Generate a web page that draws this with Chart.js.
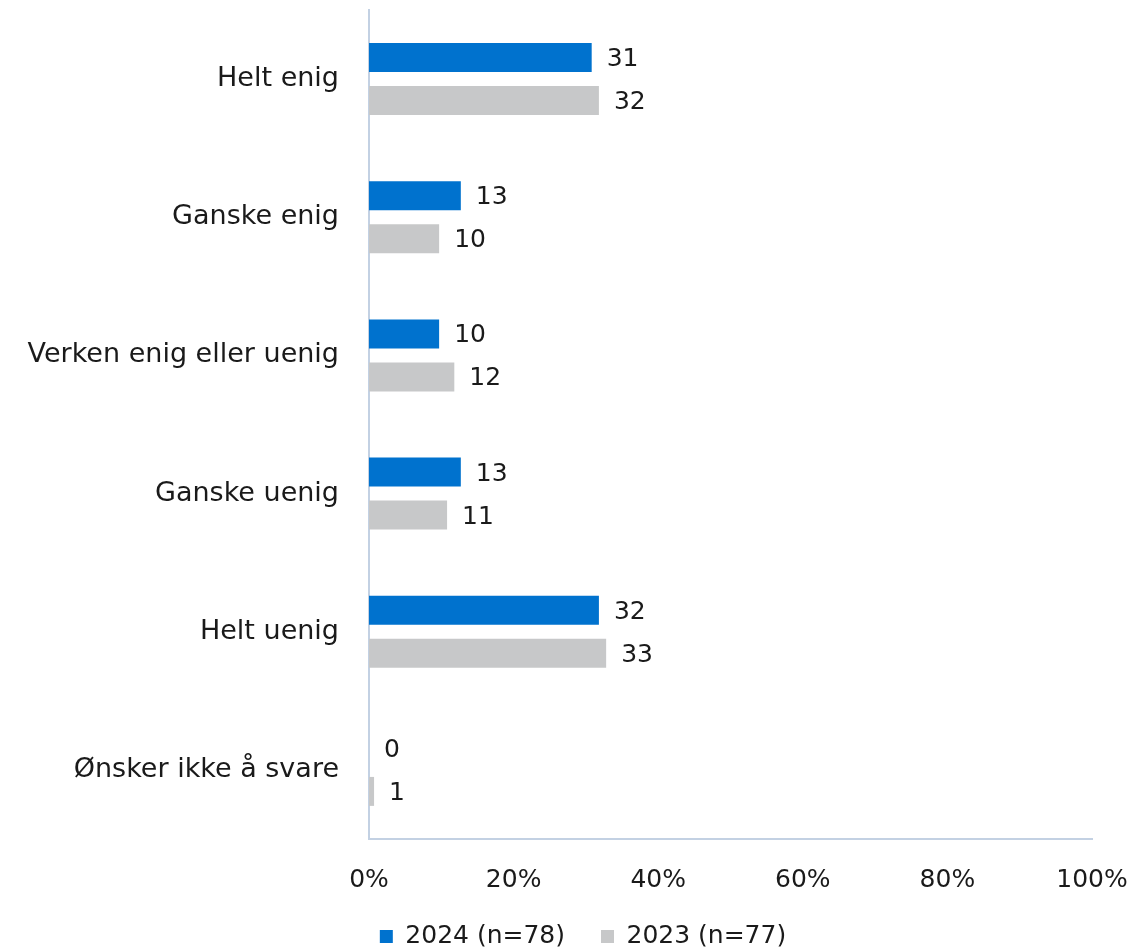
<!DOCTYPE html>
<html>
<head>
<meta charset="utf-8">
<script src="https://cdn.jsdelivr.net/npm/chart.js@4"></script>
<style>
  html, body { margin: 0; padding: 0; background: #fff; }
  #wrap { width: 1132px; height: 952px; }
</style>
</head>
<body>
<div id="wrap"><canvas id="myChart" width="1132" height="952"></canvas></div>
<script>
// kategorier og verdier
const categories = ['Helt enig', 'Ganske enig', 'Verken enig eller uenig', 'Ganske uenig', 'Helt uenig', 'Ønsker ikke å svare'];
const values2024 = [30.8, 12.7, 9.7, 12.7, 31.8, 0];
const values2023 = [31.8, 9.7, 11.8, 10.8, 32.8, 0.7];
const seriesLabels = ['2024 (n=78)', '2023 (n=77)'];
const xTicks = [0, 20, 40, 60, 80, 100];

const FONT = 'DejaVu Sans';
const SIZE = 25;
const LEGEND_PAD = 36;
const LEGEND_H = 64;
const LEGEND_SHIFT = 37;

// tall ved siden av søylene
const valueLabels = {
  id: 'valueLabels',
  afterDatasetsDraw(chart) {
    const { ctx } = chart;
    ctx.save();
    ctx.font = SIZE + 'px ' + FONT;
    ctx.fillStyle = '#1a1a1a';
    ctx.textBaseline = 'middle';
    ctx.textAlign = 'left';
    chart.data.datasets.forEach((ds, i) => {
      chart.getDatasetMeta(i).data.forEach((bar, j) => {
        ctx.fillText(String(Math.round(ds.data[j])), bar.x + 15, bar.y + 2);
      });
    });
    ctx.restore();
  },
};

// fast høyde på legenden (padding brukes til avstand mellom elementene)
const legendPlace = {
  id: 'legendPlace',
  beforeLayout(chart) {
    const lg = chart.legend;
    if (lg && !lg._patched) {
      const fit = lg.fit;
      lg.fit = function () {
        fit.call(this);
        this.height = LEGEND_H;
      };
      lg._patched = true;
    }
  },
  afterLayout(chart) {
    const lg = chart.legend;
    if (lg) {
      lg.left += LEGEND_SHIFT;
      lg.right += LEGEND_SHIFT;
    }
  },
};

const ctx = document.getElementById('myChart').getContext('2d');
new Chart(ctx, {
  type: 'bar',
  data: {
    labels: categories,
    datasets: [
      { label: seriesLabels[0], data: values2024, backgroundColor: 'rgb(0,114,206)' },
      { label: seriesLabels[1], data: values2023, backgroundColor: 'rgb(199,200,201)' },
    ],
  },
  options: {
    indexAxis: 'y',
    responsive: false,
    animation: false,
    categoryPercentage: 0.622,
    barPercentage: 0.674,
    layout: { padding: { top: 10, right: 40, bottom: 0, left: 0 } },
    scales: {
      x: {
        min: 0,
        max: 100,
        afterBuildTicks: (scale) => { scale.ticks = xTicks.map((v) => ({ value: v })); },
        afterFit: (scale) => {
          scale.height = 952 - LEGEND_H - 839;
          scale.paddingLeft = 0;
          scale.paddingRight = 0;
        },
        grid: { display: false },
        border: { display: true, color: '#c3d1e3', width: 2 },
        ticks: {
          color: '#1a1a1a',
          font: { family: FONT, size: SIZE },
          padding: 18,
          maxRotation: 0,
          callback: (v) => v + '%',
        },
      },
      y: {
        afterFit: (scale) => {
          scale.width = 369;
          scale.paddingTop = 0;
          scale.paddingBottom = 0;
        },
        grid: { display: false },
        border: { display: true, color: '#c3d1e3', width: 2 },
        ticks: {
          color: '#1a1a1a',
          font: { family: FONT, size: 27 },
          padding: 22,
        },
      },
    },
    plugins: {
      legend: {
        position: 'bottom',
        labels: {
          color: '#1a1a1a',
          font: { family: FONT, size: SIZE },
          boxWidth: 13,
          boxHeight: 13,
          padding: LEGEND_PAD,
        },
      },
      tooltip: { enabled: false },
    },
  },
  plugins: [valueLabels, legendPlace],
});
</script>
</body>
</html>
